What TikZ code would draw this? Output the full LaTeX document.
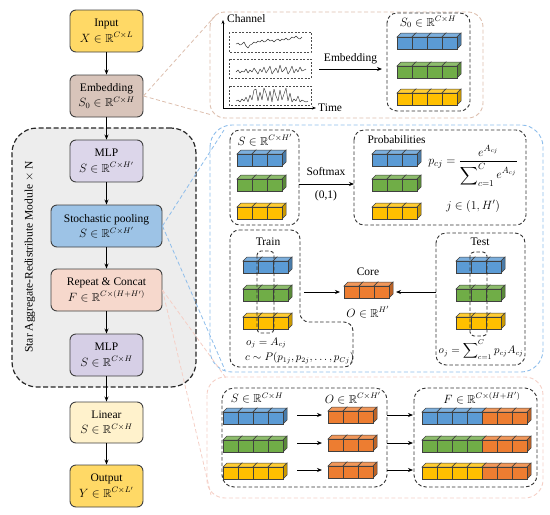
\documentclass[tikz,border=0pt]{standalone}
\usepackage{amsmath}
\usepackage{amssymb}
\usepackage{fontspec}
\setmainfont{Liberation Serif}
\usetikzlibrary{arrows.meta}
\definecolor{cInput}{HTML}{FFD966}
\definecolor{cEmb}{HTML}{D8C4BA}
\definecolor{cMlp}{HTML}{DCD6EA}
\definecolor{cMlpB}{HTML}{D6CFE6}
\definecolor{cStoch}{HTML}{9DC3E6}
\definecolor{cRep}{HTML}{F6D8CC}
\definecolor{cLin}{HTML}{FFF2CC}
\definecolor{cBlue}{HTML}{5B9BD5}
\definecolor{cGreen}{HTML}{70AD47}
\definecolor{cYellow}{HTML}{FFC000}
\definecolor{cOrange}{HTML}{ED7D31}
\definecolor{pBrown}{HTML}{DDBFAE}
\definecolor{pBlue}{HTML}{8DBDEB}
\definecolor{pPink}{HTML}{F5CFC6}
\definecolor{edgeC}{HTML}{404040}
\tikzset{
  lbox/.style={draw=edgeC,line width=0.9pt,rounded corners=6pt,align=center,inner sep=1pt,
    font=\fontsize{11.5}{15.5}\selectfont},
  arr/.style={-{Stealth[length=5pt,width=4pt]},line width=0.8pt},
  dbox/.style={draw=black!80,dash pattern=on 3.5pt off 2.2pt,line width=0.9pt},
  cubeedge/.style={draw=black!75,line width=0.5pt},
  sig/.style={line width=0.45pt,black!80,line join=round},
  thin dash/.style={draw=black!70,dash pattern=on 2pt off 1.5pt,line width=0.6pt},
  smallmath/.style={font=\fontsize{10.5}{12}\selectfont},
}
\newcommand\cubebar[4]{%
  \foreach \k in {1,...,#3}{%
    \pgfmathsetmacro\xx{#1+(\k-1)*15}%
    \draw[cubeedge,fill=#4!80!white] (\xx,#2) -- ++(4,-4) -- ++(15,0) -- ++(-4,4) -- cycle;
    \draw[cubeedge,fill=#4!80!black] (\xx+15,#2) -- ++(4,-4) -- ++(0,12) -- ++(-4,4) -- cycle;
    \draw[cubeedge,fill=#4] (\xx,#2) rectangle ++(15,12);
  }}
\begin{document}
\begin{tikzpicture}[x=1pt,y=-1pt,font=\fontsize{11.5}{13.5}\selectfont]
\useasboundingbox (0,0) rectangle (550,515);

% module background
\node[draw=black!85,fill=black!7,dash pattern=on 5pt off 2.5pt,line width=1.2pt,
  rounded corners=25pt,minimum width=184pt,minimum height=259pt,inner sep=0pt] (module) at (104,257.5) {};
\node[rotate=90] (modlabel) at (30,257) {Star Aggregate-Redistribute Module $\times$ N};

% left column
\node[lbox,fill=cInput,minimum width=73pt,minimum height=42pt] (input) at (106.5,31) {Input\\$X\in\mathbb{R}^{C\times L}$};
\node[lbox,fill=cEmb,minimum width=73pt,minimum height=42pt] (emb) at (106.5,96) {Embedding\\$S_0\in\mathbb{R}^{C\times H}$};
\node[lbox,fill=cMlp,minimum width=73pt,minimum height=42pt] (mlp1) at (106.5,161) {MLP\\$S\in\mathbb{R}^{C\times H'}$};
\node[lbox,fill=cStoch,minimum width=111pt,minimum height=42pt] (stoch) at (106.5,226) {Stochastic pooling\\$S\in\mathbb{R}^{C\times H'}$};
\node[lbox,fill=cRep,minimum width=111pt,minimum height=42pt] (rep) at (106.5,290) {Repeat \& Concat\\$F\in\mathbb{R}^{C\times(H+H')}$};
\node[lbox,fill=cMlpB,minimum width=73pt,minimum height=42pt] (mlp2) at (106.5,355) {MLP\\$S\in\mathbb{R}^{C\times H}$};
\node[lbox,fill=cLin,minimum width=73pt,minimum height=41pt] (lin) at (106.5,422.5) {Linear\\$S\in\mathbb{R}^{C\times H}$};
\node[lbox,fill=cInput,minimum width=73pt,minimum height=42pt] (out) at (106.5,486) {Output\\$Y\in\mathbb{R}^{C\times L'}$};
\draw[arr] (input) -- (emb);
\draw[arr] (emb) -- (mlp1);
\draw[arr] (mlp1) -- (stoch);
\draw[arr] (stoch) -- (rep);
\draw[arr] (rep) -- (mlp2);
\draw[arr] (mlp2) -- (lin);
\draw[arr] (lin) -- (out);

% panels
\draw[pBrown,dash pattern=on 4pt off 2.5pt,line width=0.9pt,rounded corners=15pt] (210,12) rectangle (483,118);
\draw[pBlue,dash pattern=on 4pt off 2.5pt,line width=0.9pt,rounded corners=22pt] (210,125) rectangle (543,372);
\draw[pPink,dash pattern=on 4pt off 2.5pt,line width=0.9pt,rounded corners=18pt] (207,377) rectangle (543,498);

% connectors to panels
\coordinate (b1) at (216,15);
\coordinate (b2) at (212,115);
\coordinate (u1) at (224,130);
\coordinate (u2) at (225,370);
\coordinate (k1) at (226,378);
\coordinate (k2) at (211,495);
\draw[pBrown,dash pattern=on 4pt off 2.5pt,line width=0.8pt] (emb.east) -- (b1);
\draw[pBrown,dash pattern=on 4pt off 2.5pt,line width=0.8pt] (emb.east) -- (b2);
\draw[pBlue,dash pattern=on 4pt off 2.5pt,line width=0.8pt] (stoch.east) -- (u1);
\draw[pBlue,dash pattern=on 4pt off 2.5pt,line width=0.8pt] (stoch.east) -- (u2);
\draw[pPink,dash pattern=on 4pt off 2.5pt,line width=0.8pt] (rep.east) -- (k1);
\draw[pPink,dash pattern=on 4pt off 2.5pt,line width=0.8pt] (rep.east) -- (k2);

% ---------- panel 1 ----------
\coordinate (ax0) at (223,108);
\coordinate (axy) at (223,20);
\coordinate (axx) at (316,108);
\draw[-{Stealth[length=4pt,width=3pt]},line width=0.8pt] (ax0) -- (axy);
\draw[-{Stealth[length=4pt,width=3pt]},line width=0.8pt] (ax0) -- (axx);
\node[anchor=west,inner sep=1pt] (chl) at (226,19) {Channel};
\node[anchor=west,inner sep=1pt] (tml) at (317,108) {Time};
\draw[thin dash] (229,32) rectangle (311,52);
\draw[thin dash] (229,59) rectangle (311,78);
\draw[thin dash] (229,86) rectangle (311,105);
\draw[sig] (236,44) \foreach \v [count=\i] in {43,45,44,42,46,48,45,44,42,43,41,42,40,42,41,39,41,40,42,40,39,41,39,40,38,40,39,37,38,36,38,39,37} {-- ({236+2*\i},\v)};
\draw[sig] (236,72) \foreach \v [count=\i] in {70,73,71,72,69,73,70,72,68,71,74,69,72,67,73,70,66,74,71,68,73,65,72,70,67,74,71,66,73,69,72,67,71,70,69} {-- ({236+2*\i},\v)};
\draw[sig] (236,101) \foreach \v [count=\i] in {100,102,99,101,97,102,95,100,90,89,101,92,100,88,93,101,91,102,89,96,101,90,100,94,88,101,93,102,99,101,96,102,100,101,102,101} {-- ({236+2*\i},\v)};
\coordinate (ea) at (319,69);
\coordinate (eb) at (382,69);
\draw[arr] (ea) -- node[above=1pt] (embl) {Embedding} (eb);
\draw[dbox,rounded corners=10pt] (387,13) rectangle (470,111);
\node (s0l) at (428,22) {$S_0\in\mathbb{R}^{C\times H}$};
\cubebar{397}{37}{4}{cBlue}
\cubebar{397}{66}{4}{cGreen}
\cubebar{397}{93}{4}{cYellow}

% ---------- panel 2 ----------
\draw[dbox,rounded corners=10pt] (230,130) rectangle (299,225);
\node (sl) at (265,140) {$S\in\mathbb{R}^{C\times H'}$};
\cubebar{237}{154}{3}{cBlue}
\cubebar{237}{179}{3}{cGreen}
\cubebar{237}{207}{3}{cYellow}
\coordinate (sa) at (299,184);
\coordinate (sb) at (354,184);
\draw[arr] (sa) -- (sb);
\node (smx) at (326,172) {Softmax};
\node (smr) at (326,196) {(0,1)};
\draw[dbox,rounded corners=10pt] (354,130) rectangle (526,225);
\node[anchor=west] (prl) at (364,140) {Probabilities};
\cubebar{372}{154}{3}{cBlue}
\cubebar{372}{179}{3}{cGreen}
\cubebar{372}{207}{3}{cYellow}
\node[font=\fontsize{12.5}{14}\selectfont] (pf) at (473,166) {$p_{cj}=\dfrac{e^{A_{cj}}}{\displaystyle\sum\nolimits_{c=1}^{C} e^{A_{cj}}}$};
\node (jr) at (473,206) {$j\in\left(1,H'\right)$};

% train
\draw[dbox,rounded corners=9pt] (230,230) -- (300,230) -- (300,322) -- (353,322) -- (353,367) -- (230,367) -- cycle;
\node (trl) at (268,242) {Train};
\cubebar{243}{261}{3}{cBlue}
\cubebar{243}{289}{3}{cGreen}
\cubebar{243}{317}{3}{cYellow}
\draw[dbox,rounded corners=4pt] (257,251) rectangle (274,333);
\node[anchor=west,inner sep=1pt,smallmath] (oj1) at (245,343) {$o_j=A_{cj}$};
\node[anchor=west,inner sep=1pt,smallmath] (cp) at (244,358) {$c\sim P(p_{1j},p_{2j},\ldots,p_{Cj})$};
% core
\node (corel) at (368,272) {Core};
\cubebar{344}{286}{3}{cOrange}
\node (ol) at (368,312) {$O\in\mathbb{R}^{H'}$};
\coordinate (ta) at (304,292);
\coordinate (tb) at (340,292);
\coordinate (tc) at (436,292);
\coordinate (td) at (396,292);
\draw[arr] (ta) -- (tb);
\draw[arr] (tc) -- (td);
% test
\draw[dbox,rounded corners=10pt] (436,233) rectangle (525,365);
\node (tel) at (480,242) {Test};
\cubebar{456}{261}{3}{cBlue}
\cubebar{456}{289}{3}{cGreen}
\cubebar{456}{317}{3}{cYellow}
\draw[dbox,rounded corners=4pt] (470,252) rectangle (487,336);
\node[smallmath] (oj2) at (481,350) {$o_j=\displaystyle\sum\nolimits_{c=1}^{C}p_{cj}A_{cj}$};

% ---------- panel 3 ----------
\draw[dbox,rounded corners=12pt] (222,388) rectangle (387,487);
\node (sl3) at (257,398) {$S\in\mathbb{R}^{C\times H}$};
\node (ol3) at (353,398) {$O\in\mathbb{R}^{C\times H'}$};
\draw[dbox,rounded corners=12pt] (414,388) rectangle (537,487);
\node (fl3) at (482,398) {$F\in\mathbb{R}^{C\times(H+H')}$};
\cubebar{223}{412}{4}{cBlue}
\cubebar{223}{440}{4}{cGreen}
\cubebar{223}{467}{4}{cYellow}
\cubebar{328}{411}{3}{cOrange}
\cubebar{328}{439}{3}{cOrange}
\cubebar{328}{466}{3}{cOrange}
\cubebar{422}{412}{4}{cBlue}
\cubebar{482}{412}{3}{cOrange}
\cubebar{422}{440}{4}{cGreen}
\cubebar{482}{440}{3}{cOrange}
\cubebar{422}{467}{4}{cYellow}
\cubebar{482}{467}{3}{cOrange}
\foreach \yy [count=\i] in {415,443,470}{
  \coordinate (la\i) at (297,\yy);
  \coordinate (lb\i) at (322,\yy);
  \coordinate (ra\i) at (387,\yy);
  \coordinate (rb\i) at (413,\yy);
  \draw[arr] (la\i) -- (lb\i);
  \draw[arr] (ra\i) -- (rb\i);
}
\end{tikzpicture}
\end{document}
